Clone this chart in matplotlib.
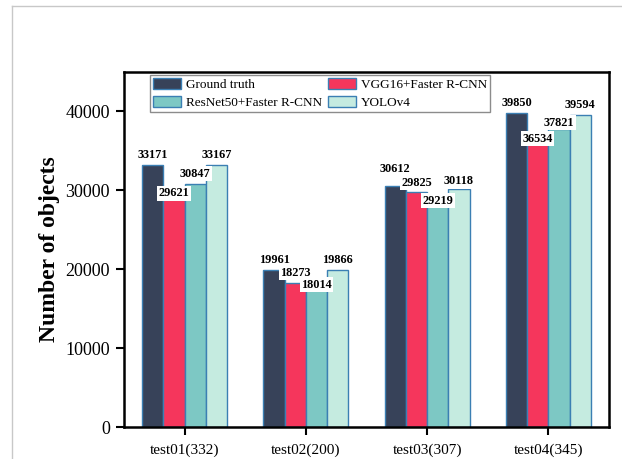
import matplotlib
matplotlib.use("Agg")
import matplotlib.pyplot as plt
import numpy as np
from matplotlib.lines import Line2D
from matplotlib.patches import Patch

plt.rcParams["font.family"] = ["Liberation Serif", "DejaVu Serif"]

# Data
test_sets = ["test01(332)", "test02(200)", "test03(307)", "test04(345)"]
methods = ["Ground truth", "VGG16+Faster R-CNN", "ResNet50+Faster R-CNN", "YOLOv4"]
ground_truth = [33171, 19961, 30612, 39850]
vgg16_frcnn = [29621, 18273, 29825, 36534]
resnet50_frcnn = [30847, 18014, 29219, 37821]
yolov4 = [33167, 19866, 30118, 39594]
series = [ground_truth, vgg16_frcnn, resnet50_frcnn, yolov4]

# Styling
colors = ["#374259", "#f5365c", "#7dc8c4", "#c5ebe0"]
edge_color = "#3b7fb3"
bar_width = 0.175
# vertical nudges (points) of the value labels per test set, keeps neighbours apart
label_nudge = [
    [7.2, 0.0, 7.2, 7.2],
    [7.2, 7.2, 0.0, 7.2],
    [12.2, 6.5, -2.9, 5.8],
    [7.2, 0.0, 4.3, 7.2],
]

fig = plt.figure(figsize=(6.22, 4.59), dpi=100)
ax = fig.add_axes([124 / 622, 1 - 427 / 459, (609 - 124) / 622, (427 - 72) / 459])

# light outer frame of the figure
fig.add_artist(Line2D([12 / 622, 12 / 622], [0, 1 - 5.5 / 459], transform=fig.transFigure,
                      color="#c8c8c8", lw=1.0))
fig.add_artist(Line2D([12 / 622, 1], [1 - 5.5 / 459, 1 - 5.5 / 459], transform=fig.transFigure,
                      color="#c8c8c8", lw=1.0))

x = np.arange(len(test_sets))
offsets = (np.arange(len(series)) - 1.5) * bar_width
for i, (vals, col) in enumerate(zip(series, colors)):
    bars = ax.bar(x + offsets[i], vals, width=bar_width, color=col,
                  edgecolor=edge_color, linewidth=1.0, zorder=2, label=methods[i])
    for j, (b, v) in enumerate(zip(bars, vals)):
        ax.annotate(f"{v}", xy=(b.get_x() + b.get_width() / 2, v),
                    xytext=(0, label_nudge[j][i]), textcoords="offset points",
                    ha="center", va="center", fontsize=8.8, fontweight="bold",
                    bbox=dict(boxstyle="square,pad=0.12", fc="white", ec="none"),
                    zorder=5)

ax.set_xlim(-0.5, 3.5)
ax.set_ylim(0, 45000)
ax.set_xticks(x)
ax.set_xticklabels(test_sets, fontsize=11)
ax.set_yticks([0, 10000, 20000, 30000, 40000])
ax.tick_params(axis="y", labelsize=13, length=6, width=1.5, pad=4, direction="out")
ax.tick_params(axis="x", length=6, width=1.5, pad=6, direction="out")

for s in ax.spines.values():
    s.set_linewidth(1.8)
    s.set_color("black")

ax.set_ylabel("Number of objects", fontsize=17, fontweight="bold")
ax.yaxis.set_label_coords(-0.132, 0.5)

handles = [Patch(facecolor=c, edgecolor=edge_color, linewidth=1.0) for c in colors]
order = [0, 2, 1, 3]
leg = ax.legend([handles[k] for k in order], [methods[k] for k in order],
                ncol=2, loc="upper left",
                bbox_to_anchor=((150 - 124) / 485, (427 - 75) / 355),
                borderaxespad=0, fontsize=9.5, frameon=True, fancybox=False,
                edgecolor="#8c8c8c", framealpha=1, borderpad=0.2,
                handlelength=2.15, handleheight=1.0, handletextpad=0.4,
                columnspacing=0.4, labelspacing=0.35)
leg.get_frame().set_linewidth(1.0)
leg.set_zorder(6)

fig.savefig("out.png", dpi=100)
